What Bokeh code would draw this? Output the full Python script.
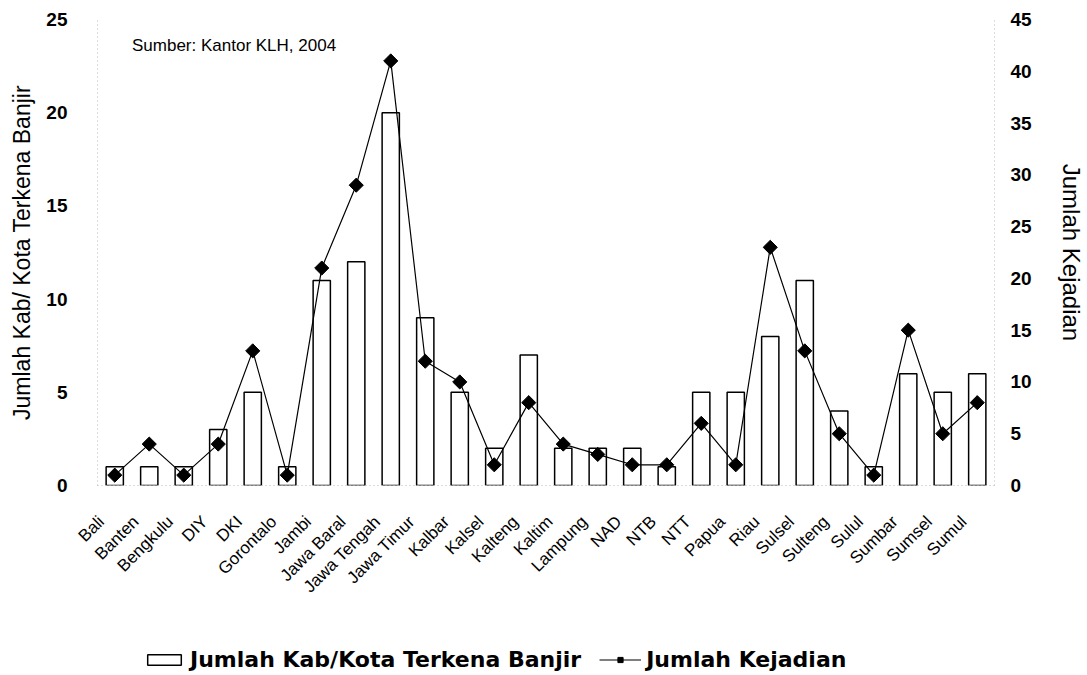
import math
from bokeh.plotting import figure
from bokeh.layouts import column
from bokeh.models import (Range1d, LinearAxis, Legend, LegendItem, Label, FixedTicker,
                          CustomJSTickFormatter)
from bokeh.embed import file_html
from bokeh.resources import INLINE

provinces = ["Bali", "Banten", "Bengkulu", "DIY", "DKI", "Gorontalo", "Jambi",
             "Jawa Baral", "Jawa Tengah", "Jawa Timur", "Kalbar", "Kalsel",
             "Kalteng", "Kaltim", "Lampung", "NAD", "NTB", "NTT", "Papua",
             "Riau", "Sulsel", "Sulteng", "Sulul", "Sumbar", "Sumsel", "Sumul"]
kab_kota = [1, 1, 1, 3, 5, 1, 11, 12, 20, 9, 5, 2, 7, 2, 2, 2, 1, 5, 5, 8, 11, 4, 1, 6, 5, 6]
kejadian = [1, 4, 1, 4, 13, 1, 21, 29, 41, 12, 10, 2, 8, 4, 3, 2, 2, 6, 2, 23, 13, 5, 1, 15, 5, 8]
left_ticks = [0, 5, 10, 15, 20, 25]
right_ticks = [0, 5, 10, 15, 20, 25, 30, 35, 40, 45]

FONT = "Liberation Sans"

p = figure(x_range=provinces, y_range=Range1d(0, 25), width=1087, height=640,
           output_backend="svg", toolbar_location=None,
           min_border_left=97, min_border_right=85, min_border_top=19,
           min_border_bottom=155)
p.extra_y_ranges = {"kej": Range1d(0, 45)}
p.outline_line_color = None
p.xgrid.visible = False
p.ygrid.visible = False

bars = p.vbar(x=provinces, top=kab_kota, width=0.5, fill_color="white",
              line_color="black", line_width=1.5)
ln = p.line(x=provinces, y=kejadian, y_range_name="kej", line_color="black", line_width=1.2)
pts = p.scatter(x=provinces, y=kejadian, y_range_name="kej", marker="square",
                angle=math.pi / 4, size=10, fill_color="black", line_color="black")

# left axis
ya = p.yaxis[0]
ya.ticker = FixedTicker(ticks=left_ticks)
ya.axis_label = "Jumlah Kab/ Kota Terkena Banjir"
ya.axis_label_text_font = FONT
ya.axis_label_text_font_size = "23px"
ya.axis_label_text_font_style = "normal"
ya.axis_label_text_color = "black"
ya.axis_label_standoff = 8
ya.major_label_text_font = FONT
ya.major_label_text_font_size = "19px"
ya.major_label_text_font_style = "bold"
ya.major_label_text_color = "black"
ya.major_label_standoff = 24
ya.major_tick_line_color = None
ya.minor_tick_line_color = None
ya.axis_line_color = "#bbbbbb"
ya.axis_line_dash = "1 3"

# right axis
ra = LinearAxis(y_range_name="kej", ticker=FixedTicker(ticks=right_ticks))
ra.axis_label = "Jumlah Kejadian"
ra.axis_label_text_font = FONT
ra.axis_label_text_font_size = "24px"
ra.axis_label_text_font_style = "normal"
ra.axis_label_text_color = "black"
ra.axis_label_standoff = 23
ra.major_label_text_font = FONT
ra.major_label_text_font_size = "19px"
ra.major_label_text_font_style = "bold"
ra.major_label_text_color = "black"
ra.major_label_standoff = 10
ra.major_tick_line_color = None
ra.minor_tick_line_color = None
ra.axis_line_color = "#bbbbbb"
ra.axis_line_dash = "1 3"
p.add_layout(ra, "right")

# x axis
xa = p.xaxis[0]
xa.major_label_orientation = math.pi / 4
xa.formatter = CustomJSTickFormatter(code="return tick + '\\u00a0\\u00a0\\u00a0\\u00a0';")
xa.major_label_text_font = FONT
xa.major_label_text_font_size = "17px"
xa.major_label_text_color = "black"
xa.major_label_standoff = 14
xa.major_tick_line_color = None
xa.minor_tick_line_color = None
xa.axis_line_color = "#bbbbbb"
xa.axis_line_dash = "1 3"

src = Label(x=1.0, y=23.6, text="Sumber: Kantor KLH, 2004", text_font=FONT,
            text_font_size="17px", text_baseline="middle", text_color="black")
p.add_layout(src)

# legend strip below the chart (renderers share the data but are hidden)
lg = figure(width=1087, height=35, output_backend="svg", toolbar_location=None,
            min_border=0, x_range=provinces, y_range=Range1d(50, 51))
lg.axis.visible = False
lg.grid.visible = False
lg.outline_line_color = None
lbars = lg.vbar(x=provinces, top=kab_kota, width=0.5, fill_color="white",
                line_color="black", line_width=1.5, visible=False)
lln = lg.line(x=provinces, y=kejadian, line_color="black", line_width=1.2, visible=False)
lpts = lg.scatter(x=provinces, y=kejadian, marker="square", angle=math.pi / 4, size=10,
                  fill_color="black", line_color="black", visible=False)

legend = Legend(items=[LegendItem(label="Jumlah Kab/Kota Terkena Banjir", renderers=[lbars]),
                       LegendItem(label="Jumlah Kejadian", renderers=[lln, lpts])],
                orientation="horizontal", location=(46, 3))
legend.border_line_color = None
legend.background_fill_alpha = 0
legend.inactive_fill_alpha = 0
legend.padding = 0
legend.margin = 0
legend.spacing = 18
legend.label_text_font = "DejaVu Sans"
legend.label_text_font_size = "22px"
legend.label_text_font_style = "bold"
legend.label_text_color = "black"
legend.glyph_width = 42
legend.glyph_height = 13
legend.label_standoff = 5
lg.add_layout(legend, "center")

layout = column(p, lg, spacing=0)
open("out.html", "w").write(file_html(layout, INLINE))
